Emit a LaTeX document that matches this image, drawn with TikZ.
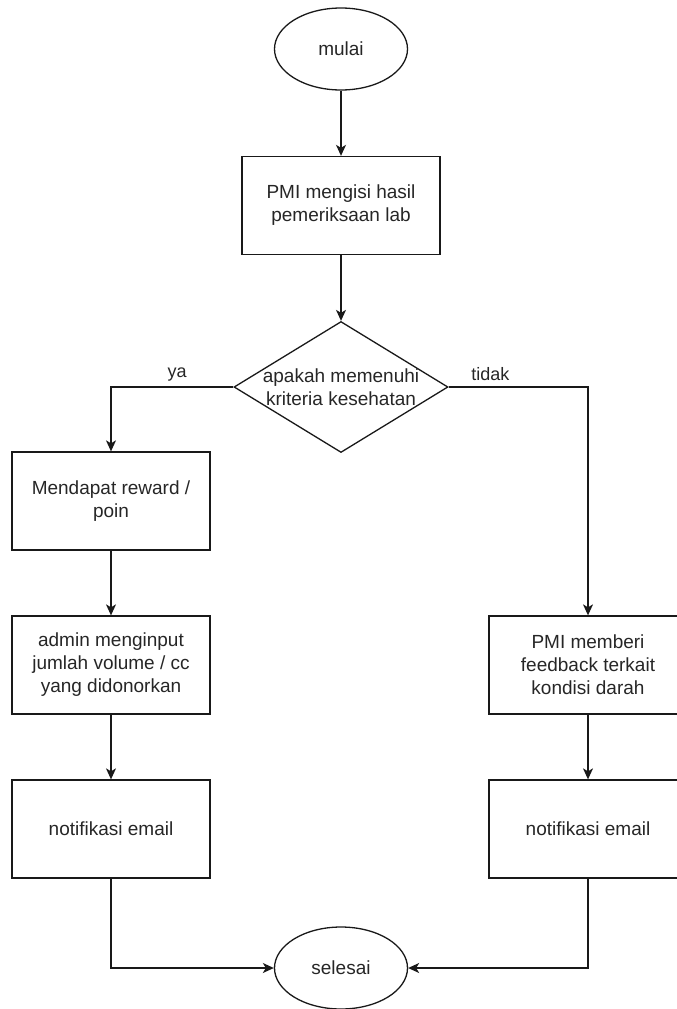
\documentclass[tikz,border=0pt]{standalone}
\usepackage{fontspec}
\setmainfont{Liberation Sans}
\usetikzlibrary{shapes.geometric,arrows.meta}

\tikzset{
  flow/.style={line width=1.3pt, draw=black!90},
  proc/.style={flow, rectangle, minimum width=198pt, minimum height=98pt,
    inner sep=2pt, align=center, font=\fontsize{19}{23}\selectfont, text=black!85},
  term/.style={flow, ellipse, minimum width=133pt, minimum height=82pt,
    inner sep=0pt, font=\fontsize{19}{23}\selectfont, text=black!85},
  decide/.style={flow, diamond, minimum width=214pt, minimum height=131pt,
    inner sep=0pt},
  txt/.style={align=center, font=\fontsize{19}{23}\selectfont, text=black!85},
  conn/.style={flow, -{Stealth[length=11pt, width=10pt, inset=3pt]}},
  lbl/.style={font=\fontsize{18}{22}\selectfont, text=black!85}
}

\begin{document}
\begin{tikzpicture}[x=1pt, y=-1pt]
  \useasboundingbox (0,0) rectangle (677,1009);
  \clip (0,0) rectangle (677,1009);

  % nodes
  \node[term] (start) at (341,49) {mulai};
  \node[proc] (lab) at (341,205.5) {PMI mengisi hasil\\pemeriksaan lab};
  \node[decide] (check) at (341,387) {};
  \node[txt] (checktxt) at (341,387) {apakah memenuhi\\kriteria kesehatan};
  \node[proc] (reward) at (111,501) {Mendapat reward /\\poin};
  \node[proc] (admin) at (111,665) {admin menginput\\jumlah volume / cc\\yang didonorkan};
  \node[proc] (mailL) at (111,829) {notifikasi email};
  \node[proc] (feedback) at (588,665) {PMI memberi\\feedback terkait\\kondisi darah};
  \node[proc] (mailR) at (588,829) {notifikasi email};
  \node[term] (finish) at (341,968) {selesai};

  % connectors
  \draw[conn] (start) -- (lab);
  \draw[conn] (lab) -- (check.north);
  \draw[conn] (check.west) -| node[lbl, pos=0.23, above=2pt] {ya} (reward.north);
  \draw[conn] (check.east) -| node[lbl, pos=0.15, above=2pt] {tidak} (feedback.north);
  \draw[conn] (reward) -- (admin);
  \draw[conn] (admin) -- (mailL);
  \draw[conn] (feedback) -- (mailR);
  \draw[conn] (mailL.south) |- (finish.west);
  \draw[conn] (mailR.south) |- (finish.east);
\end{tikzpicture}
\end{document}
